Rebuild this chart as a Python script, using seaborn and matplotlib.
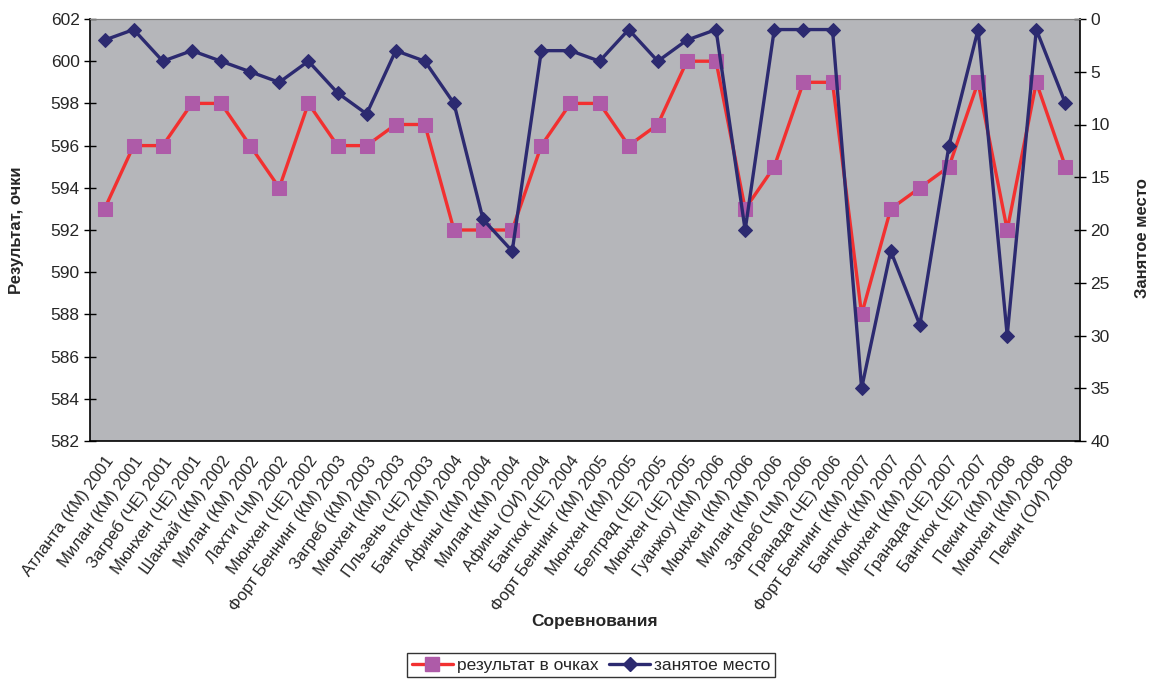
import matplotlib
matplotlib.use("Agg")
import matplotlib.pyplot as plt
from matplotlib.lines import Line2D
import seaborn as sns
import numpy as np
import pandas as pd

competitions = [
    "Атланта (КМ) 2001", "Милан (КМ) 2001", "Загреб (ЧЕ) 2001", "Мюнхен (ЧЕ) 2001",
    "Шанхай (КМ) 2002", "Милан (КМ) 2002", "Лахти (ЧМ) 2002", "Мюнхен (ЧЕ) 2002",
    "Форт Беннинг (КМ) 2003", "Загреб (КМ) 2003", "Мюнхен (КМ) 2003", "Пльзень (ЧЕ) 2003",
    "Бангкок (КМ) 2004", "Афины (КМ) 2004", "Милан (КМ) 2004", "Афины (ОИ) 2004",
    "Бангкок (ЧЕ) 2004", "Форт Беннинг (КМ) 2005", "Мюнхен (КМ) 2005", "Белград (ЧЕ) 2005",
    "Мюнхен (ЧЕ) 2005", "Гуанжоу (КМ) 2006", "Мюнхен (КМ) 2006", "Милан (КМ) 2006",
    "Загреб (ЧМ) 2006", "Гранада (ЧЕ) 2006", "Форт Беннинг (КМ) 2007", "Бангкок (КМ) 2007",
    "Мюнхен (КМ) 2007", "Гранада (ЧЕ) 2007", "Бангкок (ЧЕ) 2007", "Пекин (КМ) 2008",
    "Мюнхен (КМ) 2008", "Пекин (ОИ) 2008",
]
score = [593, 596, 596, 598, 598, 596, 594, 598, 596, 596, 597, 597,
         592, 592, 592, 596, 598, 598, 596, 597, 600, 600, 593, 595,
         599, 599, 588, 593, 594, 595, 599, 592, 599, 595]
place = [2, 1, 4, 3, 4, 5, 6, 4, 7, 9, 3, 4,
         8, 19, 22, 3, 3, 4, 1, 4, 2, 1, 20, 1,
         1, 1, 35, 22, 29, 12, 1, 30, 1, 8]

sns.set_style("white")
plt.rcParams["font.family"] = ["Liberation Sans", "DejaVu Sans"]

RED = "#F23030"
PINK = "#AE5BA8"
NAVY = "#2C2A70"
BG = "#B5B6BA"

df = pd.DataFrame({"idx": np.arange(len(competitions)), "score": score, "place": place})

fig = plt.figure(figsize=(11.53, 6.80), dpi=100)
ax = fig.add_axes([90 / 1153, 1 - 441 / 680, 990 / 1153, 422 / 680])
ax.set_facecolor(BG)

sns.lineplot(data=df, x="idx", y="score", ax=ax, color=RED, linewidth=2.4,
             marker="s", markersize=9.5, markerfacecolor=PINK, markeredgecolor=PINK,
             legend=False, zorder=3)
ax2 = ax.twinx()
sns.lineplot(data=df, x="idx", y="place", ax=ax2, color=NAVY, linewidth=2.4,
             marker="D", markersize=7.5, markerfacecolor=NAVY, markeredgecolor=NAVY,
             legend=False, zorder=4)

n = len(competitions)
ax.set_xlim(-0.5, n - 0.5)
ax.set_ylim(582, 602)
ax.set_yticks(np.arange(582, 603, 2))
ax2.set_ylim(40, 0)
ax2.set_yticks(np.arange(0, 41, 5))

ax.set_xticks(np.arange(n))
ax.set_xticklabels(competitions, rotation=54, ha="right", va="top",
                   rotation_mode="anchor", fontsize=12)
ax.set_xticks(np.arange(n + 1) - 0.5, minor=True)
ax.tick_params(axis="x", which="major", length=0, pad=9)
ax.tick_params(axis="x", which="minor", direction="inout", length=9, width=1, color="black")
ax.tick_params(axis="y", direction="inout", length=9, width=1, color="black", labelsize=12.5, pad=3)
ax2.tick_params(axis="y", direction="inout", length=9, width=1, color="black", labelsize=12.5, pad=3)

for sp in ["left", "bottom"]:
    ax.spines[sp].set_color("black")
    ax.spines[sp].set_linewidth(1.2)
ax.spines["top"].set_color("#808080")
ax.spines["right"].set_visible(False)
for sp in ["left", "bottom"]:
    ax2.spines[sp].set_visible(False)
ax2.spines["top"].set_color("#808080")
ax2.spines["right"].set_color("black")
ax2.spines["right"].set_linewidth(1.2)
ax.grid(False)
ax2.grid(False)

ax.set_xlabel("Соревнования", fontsize=12.5, fontweight="bold")
ax.xaxis.set_label_coords(0.51, -0.41)
ax.set_ylabel("Результат, очки", fontsize=12, fontweight="bold")
ax.yaxis.set_label_coords(-0.067, 0.5)
ax2.set_ylabel("Занятое место", fontsize=12, fontweight="bold")
ax2.yaxis.set_label_coords(1.056, 0.48)

handles = [
    Line2D([0], [0], color=RED, lw=2.4, marker="s", markersize=9.5,
           markerfacecolor=PINK, markeredgecolor=PINK),
    Line2D([0], [0], color=NAVY, lw=2.4, marker="D", markersize=7.5,
           markerfacecolor=NAVY, markeredgecolor=NAVY),
]
leg = fig.legend(handles, ["результат в очках", "занятое место"], ncol=2,
                 loc="center", bbox_to_anchor=(591 / 1153, 1 - 665 / 680),
                 frameon=True, fancybox=False, edgecolor="black", fontsize=12.5,
                 handlelength=2.4, handletextpad=0.2, columnspacing=0.6,
                 borderpad=0.25, borderaxespad=0)
leg.get_frame().set_linewidth(1.0)

fig.savefig("out.png", dpi=100)
